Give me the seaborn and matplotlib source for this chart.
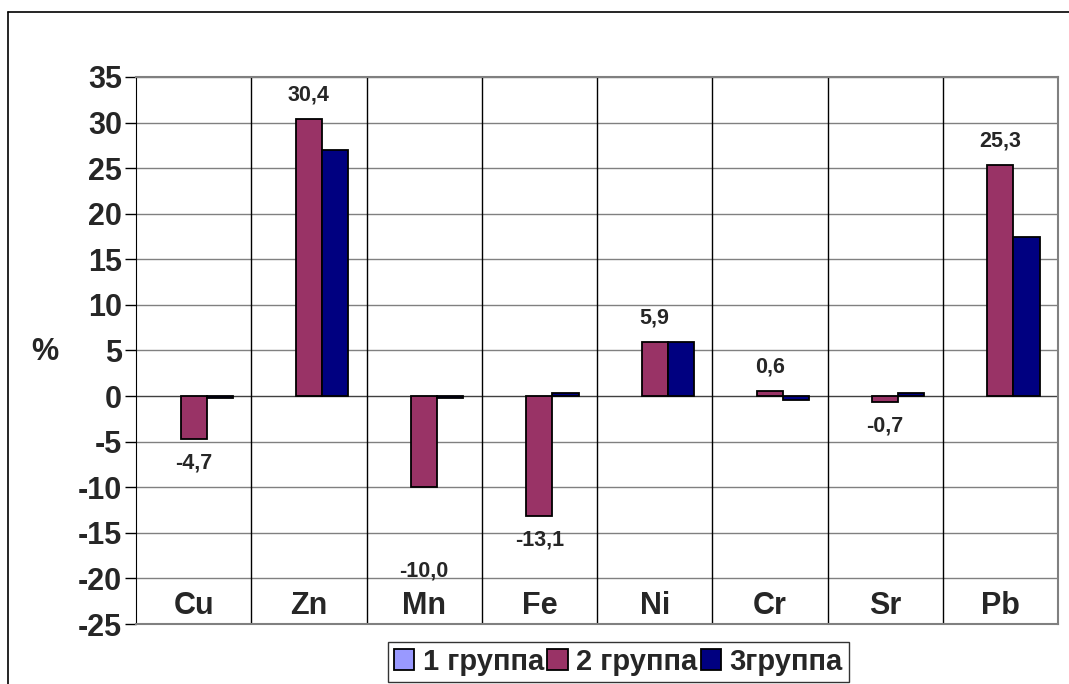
import pandas as pd
import seaborn as sns
import matplotlib.pyplot as plt
from matplotlib.lines import Line2D

# data
elements = ['Cu', 'Zn', 'Mn', 'Fe', 'Ni', 'Cr', 'Sr', 'Pb']
group1 = [0, 0, 0, 0, 0, 0, 0, 0]
group2 = [-4.7, 30.4, -10.0, -13.1, 5.9, 0.6, -0.7, 25.3]
group3 = [-0.2, 27.0, -0.2, 0.3, 5.9, -0.4, 0.35, 17.5]
group_names = ['1 группа', '2 группа', '3группа']
labels2 = ['-4,7', '30,4', '-10,0', '-13,1', '5,9', '0,6', '-0,7', '25,3']

df = pd.DataFrame({'element': elements * 3,
                   'value': group1 + group2 + group3,
                   'group': [g for g in group_names for _ in elements]})

sns.set_style('white')
plt.rcParams['font.family'] = ['Liberation Sans', 'DejaVu Sans']
plt.rcParams['font.weight'] = 'bold'

fig = plt.figure(figsize=(10.69, 6.84), dpi=100)
ax = fig.add_axes([136/1069, 1 - 624/684, (1058 - 136)/1069, (624 - 77)/684])

sns.barplot(data=df, x='element', y='value', hue='group', order=elements,
            hue_order=group_names, palette=['#9999FF', '#993366', '#000080'],
            saturation=1, width=0.68, gap=0, edgecolor='black', linewidth=1.3,
            ax=ax, errorbar=None, legend=True, zorder=3)
# group 1 bars are all zero, so they leave no visible outline
for p in ax.containers[0]:
    p.set_linewidth(0)

ax.set_ylim(-25, 35)
ax.set_xlim(-0.5, 7.5)
ax.set_yticks(range(-25, 36, 5))
ax.set_yticklabels([str(v) for v in range(-25, 36, 5)], fontsize=22, fontweight='bold')
ax.tick_params(axis='y', direction='out', length=8, width=1, color='black', pad=2, left=True)
ax.set_xticks([])
ax.set_xlabel('')
ax.set_ylabel('')

# grid: grey horizontal, black vertical at category borders
for v in range(-20, 36, 5):
    ax.axhline(v, color='#808080' if v != 0 else '#404040', lw=1, zorder=1)
for i in range(1, 8):
    ax.axvline(i - 0.5, color='black', lw=1, zorder=1)

for side in ['top', 'right', 'bottom']:
    ax.spines[side].set_color('#808080')
    ax.spines[side].set_linewidth(1.5)
ax.spines['left'].set_color('black')

# category names inside the plot near the bottom
for i, name in enumerate(elements):
    ax.text(i, -23, name, ha='center', va='center', fontsize=22, fontweight='bold')

# value labels for group 2
extra = {'Mn': 60}
for i, (v, t) in enumerate(zip(group2, labels2)):
    off = 24 + extra.get(elements[i], 0)
    ax.annotate(t, (i, v), xytext=(0, off if v > 0 else -off), textcoords='offset pixels',
                ha='center', va='center', fontsize=15.5, fontweight='bold', zorder=5)

fig.text(45/1069, 1 - 352/684, '%', ha='center', va='center', fontsize=22, fontweight='bold')

leg = ax.legend(loc='upper left', bbox_to_anchor=(388/1069, 1 - 642/684),
                bbox_transform=fig.transFigure, ncol=3, frameon=True, fancybox=False,
                prop={'size': 21, 'weight': 'bold'}, handlelength=0.7, handleheight=0.7,
                handletextpad=0.3, columnspacing=0.1, borderpad=0.2, borderaxespad=0)
leg.get_frame().set_edgecolor('black')
leg.get_frame().set_linewidth(1)
for h in leg.legend_handles:
    h.set_linewidth(1.3)
    h.set_edgecolor('black')

# outer chart frame
fig.add_artist(Line2D([8/1069, 8/1069], [0, 1 - 12/684], color='black', lw=1.2))
fig.add_artist(Line2D([8/1069, 1], [1 - 12/684, 1 - 12/684], color='black', lw=1.2))

fig.savefig('out.png', dpi=100)
